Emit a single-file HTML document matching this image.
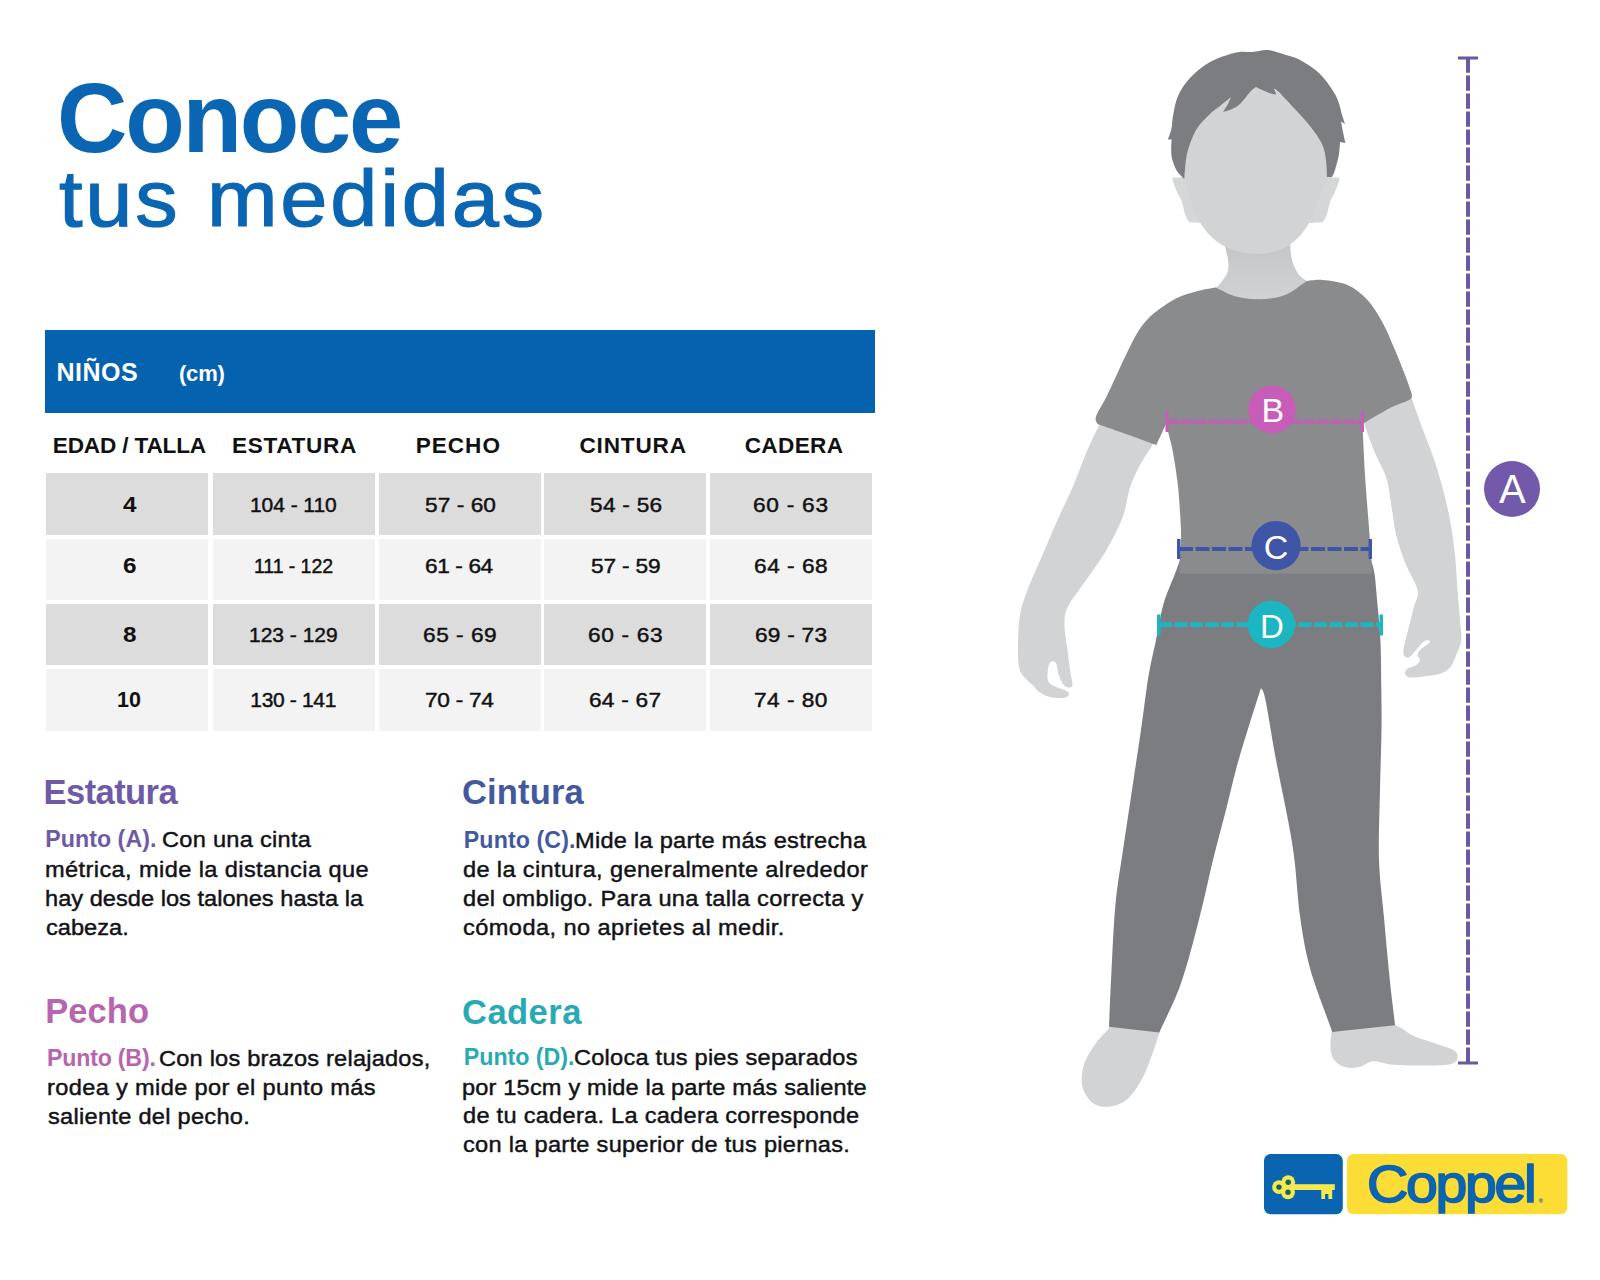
<!DOCTYPE html>
<html lang="es">
<head>
<meta charset="utf-8">
<title>Conoce tus medidas - Niños</title>
<style>
html,body{margin:0;padding:0;background:#fff;}
body{width:1600px;height:1280px;position:relative;overflow:hidden;font-family:"Liberation Sans",sans-serif;}
.t{position:absolute;white-space:pre;line-height:1;transform-origin:0 0;}
.c{position:absolute;}
.band{position:absolute;left:44.5px;top:330px;width:830.5px;height:82.5px;background:#0562ae;}
svg{position:absolute;left:0;top:0;}
header,section,figure{margin:0;padding:0;display:block;}
</style>
</head>
<body>
<header id="titulo">
<span class="t" style="left:57.0px;top:70px;font-size:97.5px;font-weight:700;color:#0a66b2;letter-spacing:-2.26px;">Conoce</span>
<span class="t" style="left:58.9px;top:159px;font-size:80px;font-weight:400;color:#0a66b2;letter-spacing:2.64px;transform:scaleX(1.060);-webkit-text-stroke:1.2px;">tus medidas</span>
</header>
<section id="tabla-tallas">
<div class="band"></div>
<div class="c" style="left:46.0px;top:473.0px;width:162.0px;height:61.5px;background:#dcdcdc"></div>
<div class="c" style="left:212.5px;top:473.0px;width:162.0px;height:61.5px;background:#dcdcdc"></div>
<div class="c" style="left:379.0px;top:473.0px;width:161.5px;height:61.5px;background:#dcdcdc"></div>
<div class="c" style="left:544.0px;top:473.0px;width:162.0px;height:61.5px;background:#dcdcdc"></div>
<div class="c" style="left:710.0px;top:473.0px;width:162.0px;height:61.5px;background:#dcdcdc"></div>
<div class="c" style="left:46.0px;top:539.0px;width:162.0px;height:61.0px;background:#f3f3f3"></div>
<div class="c" style="left:212.5px;top:539.0px;width:162.0px;height:61.0px;background:#f3f3f3"></div>
<div class="c" style="left:379.0px;top:539.0px;width:161.5px;height:61.0px;background:#f3f3f3"></div>
<div class="c" style="left:544.0px;top:539.0px;width:162.0px;height:61.0px;background:#f3f3f3"></div>
<div class="c" style="left:710.0px;top:539.0px;width:162.0px;height:61.0px;background:#f3f3f3"></div>
<div class="c" style="left:46.0px;top:604.0px;width:162.0px;height:61.0px;background:#dcdcdc"></div>
<div class="c" style="left:212.5px;top:604.0px;width:162.0px;height:61.0px;background:#dcdcdc"></div>
<div class="c" style="left:379.0px;top:604.0px;width:161.5px;height:61.0px;background:#dcdcdc"></div>
<div class="c" style="left:544.0px;top:604.0px;width:162.0px;height:61.0px;background:#dcdcdc"></div>
<div class="c" style="left:710.0px;top:604.0px;width:162.0px;height:61.0px;background:#dcdcdc"></div>
<div class="c" style="left:46.0px;top:669.0px;width:162.0px;height:61.5px;background:#f3f3f3"></div>
<div class="c" style="left:212.5px;top:669.0px;width:162.0px;height:61.5px;background:#f3f3f3"></div>
<div class="c" style="left:379.0px;top:669.0px;width:161.5px;height:61.5px;background:#f3f3f3"></div>
<div class="c" style="left:544.0px;top:669.0px;width:162.0px;height:61.5px;background:#f3f3f3"></div>
<div class="c" style="left:710.0px;top:669.0px;width:162.0px;height:61.5px;background:#f3f3f3"></div>
<span class="t" style="left:56.5px;top:360px;font-size:25px;font-weight:700;color:#fff;letter-spacing:0.50px;">NIÑOS</span>
<span class="t" style="left:179.0px;top:363px;font-size:22px;font-weight:700;color:#fff;letter-spacing:-0.21px;">(cm)</span>
<span class="t" style="left:52.8px;top:435px;font-size:22.6px;font-weight:700;color:#111;letter-spacing:-0.17px;">EDAD / TALLA</span>
<span class="t" style="left:232.0px;top:435px;font-size:22.6px;font-weight:700;color:#111;letter-spacing:0.67px;">ESTATURA</span>
<span class="t" style="left:415.7px;top:435px;font-size:22.6px;font-weight:700;color:#111;letter-spacing:0.98px;">PECHO</span>
<span class="t" style="left:579.4px;top:435px;font-size:22.6px;font-weight:700;color:#111;letter-spacing:0.83px;">CINTURA</span>
<span class="t" style="left:744.7px;top:435px;font-size:22.6px;font-weight:700;color:#111;letter-spacing:0.33px;">CADERA</span>
<span class="t" style="left:122.7px;top:495px;font-size:21.5px;font-weight:700;color:#111;transform:scaleX(1.130);">4</span>
<span class="t" style="left:250.0px;top:494px;font-size:21px;font-weight:400;color:#111;letter-spacing:-0.06px;-webkit-text-stroke:0.45px;">104 - 110</span>
<span class="t" style="left:424.6px;top:494px;font-size:21px;font-weight:400;color:#111;letter-spacing:0.05px;transform:scaleX(1.080);-webkit-text-stroke:0.45px;">57 - 60</span>
<span class="t" style="left:589.5px;top:494px;font-size:21px;font-weight:400;color:#111;letter-spacing:0.25px;transform:scaleX(1.080);-webkit-text-stroke:0.45px;">54 - 56</span>
<span class="t" style="left:753.1px;top:494px;font-size:21px;font-weight:400;color:#111;letter-spacing:0.68px;transform:scaleX(1.080);-webkit-text-stroke:0.45px;">60 - 63</span>
<span class="t" style="left:122.7px;top:556px;font-size:21.5px;font-weight:700;color:#111;transform:scaleX(1.130);">6</span>
<span class="t" style="left:253.8px;top:555px;font-size:21px;font-weight:400;color:#111;letter-spacing:-0.08px;transform:scaleX(0.930);-webkit-text-stroke:0.45px;">111 - 122</span>
<span class="t" style="left:424.9px;top:555px;font-size:21px;font-weight:400;color:#111;letter-spacing:-0.37px;transform:scaleX(1.080);-webkit-text-stroke:0.45px;">61 - 64</span>
<span class="t" style="left:590.9px;top:555px;font-size:21px;font-weight:400;color:#111;letter-spacing:-0.17px;transform:scaleX(1.080);-webkit-text-stroke:0.45px;">57 - 59</span>
<span class="t" style="left:753.8px;top:555px;font-size:21px;font-weight:400;color:#111;letter-spacing:0.48px;transform:scaleX(1.080);-webkit-text-stroke:0.45px;">64 - 68</span>
<span class="t" style="left:122.7px;top:625px;font-size:21.5px;font-weight:700;color:#111;transform:scaleX(1.130);">8</span>
<span class="t" style="left:249.0px;top:624px;font-size:21px;font-weight:400;color:#111;letter-spacing:-0.01px;-webkit-text-stroke:0.45px;">123 - 129</span>
<span class="t" style="left:422.7px;top:624px;font-size:21px;font-weight:400;color:#111;letter-spacing:0.48px;transform:scaleX(1.080);-webkit-text-stroke:0.45px;">65 - 69</span>
<span class="t" style="left:587.8px;top:624px;font-size:21px;font-weight:400;color:#111;letter-spacing:0.63px;transform:scaleX(1.080);-webkit-text-stroke:0.45px;">60 - 63</span>
<span class="t" style="left:754.6px;top:624px;font-size:21px;font-weight:400;color:#111;letter-spacing:0.22px;transform:scaleX(1.080);-webkit-text-stroke:0.45px;">69 - 73</span>
<span class="t" style="left:117.0px;top:690px;font-size:21.5px;font-weight:700;color:#111;">10</span>
<span class="t" style="left:250.3px;top:689px;font-size:21px;font-weight:400;color:#111;letter-spacing:-0.34px;-webkit-text-stroke:0.45px;">130 - 141</span>
<span class="t" style="left:424.5px;top:689px;font-size:21px;font-weight:400;color:#111;letter-spacing:-0.26px;transform:scaleX(1.080);-webkit-text-stroke:0.45px;">70 - 74</span>
<span class="t" style="left:589.1px;top:689px;font-size:21px;font-weight:400;color:#111;letter-spacing:0.22px;transform:scaleX(1.080);-webkit-text-stroke:0.45px;">64 - 67</span>
<span class="t" style="left:754.0px;top:689px;font-size:21px;font-weight:400;color:#111;letter-spacing:0.42px;transform:scaleX(1.080);-webkit-text-stroke:0.45px;">74 - 80</span>
</section>
<section id="como-medir">
<span class="t" style="left:43.6px;top:775px;font-size:34.5px;font-weight:700;color:#6e5aa6;letter-spacing:-0.58px;">Estatura</span>
<span class="t" style="left:462.0px;top:775px;font-size:34.5px;font-weight:700;color:#43599f;letter-spacing:0.16px;">Cintura</span>
<span class="t" style="left:45.2px;top:994px;font-size:34.5px;font-weight:700;color:#b765ad;letter-spacing:0.09px;">Pecho</span>
<span class="t" style="left:462.0px;top:995px;font-size:34.5px;font-weight:700;color:#27aab3;letter-spacing:0.48px;">Cadera</span>
<span class="t" style="left:45.2px;top:828px;font-size:23.2px;font-weight:700;color:#6e5aa6;letter-spacing:0.05px;">Punto (A).</span>
<span class="t" style="left:161.8px;top:828px;font-size:22.8px;font-weight:400;color:#121216;letter-spacing:0.27px;transform:scaleX(1.035);-webkit-text-stroke:0.45px;">Con una cinta</span>
<span class="t" style="left:44.6px;top:858px;font-size:22.8px;font-weight:400;color:#121216;letter-spacing:0.38px;transform:scaleX(1.035);-webkit-text-stroke:0.45px;">métrica, mide la distancia que</span>
<span class="t" style="left:44.6px;top:887px;font-size:22.8px;font-weight:400;color:#121216;letter-spacing:0.02px;transform:scaleX(1.035);-webkit-text-stroke:0.45px;">hay desde los talones hasta la</span>
<span class="t" style="left:45.6px;top:916px;font-size:22.8px;font-weight:400;color:#121216;letter-spacing:0.01px;transform:scaleX(1.035);-webkit-text-stroke:0.45px;">cabeza.</span>
<span class="t" style="left:47.0px;top:1047px;font-size:23.2px;font-weight:700;color:#b765ad;letter-spacing:-0.21px;">Punto (B).</span>
<span class="t" style="left:158.7px;top:1047px;font-size:22.8px;font-weight:400;color:#121216;letter-spacing:0.20px;transform:scaleX(1.035);-webkit-text-stroke:0.45px;">Con los brazos relajados,</span>
<span class="t" style="left:46.5px;top:1076px;font-size:22.8px;font-weight:400;color:#121216;letter-spacing:0.34px;transform:scaleX(1.035);-webkit-text-stroke:0.45px;">rodea y mide por el punto más</span>
<span class="t" style="left:47.5px;top:1105px;font-size:22.8px;font-weight:400;color:#121216;letter-spacing:0.27px;transform:scaleX(1.035);-webkit-text-stroke:0.45px;">saliente del pecho.</span>
<span class="t" style="left:463.8px;top:829px;font-size:23.2px;font-weight:700;color:#43599f;letter-spacing:0.10px;">Punto (C).</span>
<span class="t" style="left:575.3px;top:829px;font-size:22.8px;font-weight:400;color:#121216;letter-spacing:0.25px;transform:scaleX(1.035);-webkit-text-stroke:0.45px;">Mide la parte más estrecha</span>
<span class="t" style="left:463.0px;top:858px;font-size:22.8px;font-weight:400;color:#121216;letter-spacing:0.34px;transform:scaleX(1.035);-webkit-text-stroke:0.45px;">de la cintura, generalmente alrededor</span>
<span class="t" style="left:463.0px;top:887px;font-size:22.8px;font-weight:400;color:#121216;letter-spacing:0.28px;transform:scaleX(1.035);-webkit-text-stroke:0.45px;">del ombligo. Para una talla correcta y</span>
<span class="t" style="left:463.0px;top:916px;font-size:22.8px;font-weight:400;color:#121216;letter-spacing:0.41px;transform:scaleX(1.035);-webkit-text-stroke:0.45px;">cómoda, no aprietes al medir.</span>
<span class="t" style="left:463.8px;top:1046px;font-size:23.2px;font-weight:700;color:#27aab3;letter-spacing:-0.01px;">Punto (D).</span>
<span class="t" style="left:573.7px;top:1046px;font-size:22.8px;font-weight:400;color:#121216;letter-spacing:0.22px;transform:scaleX(1.035);-webkit-text-stroke:0.45px;">Coloca tus pies separados</span>
<span class="t" style="left:462.0px;top:1076px;font-size:22.8px;font-weight:400;color:#121216;letter-spacing:0.16px;transform:scaleX(1.035);-webkit-text-stroke:0.45px;">por 15cm y mide la parte más saliente</span>
<span class="t" style="left:463.0px;top:1104px;font-size:22.8px;font-weight:400;color:#121216;letter-spacing:0.26px;transform:scaleX(1.035);-webkit-text-stroke:0.45px;">de tu cadera. La cadera corresponde</span>
<span class="t" style="left:463.0px;top:1133px;font-size:22.8px;font-weight:400;color:#121216;letter-spacing:0.28px;transform:scaleX(1.035);-webkit-text-stroke:0.45px;">con la parte superior de tus piernas.</span>
</section>
<figure id="ilustracion">
<svg width="1600" height="1280" viewBox="0 0 1600 1280">
<defs><linearGradient id="neckg" x1="0" y1="0" x2="0" y2="1"><stop offset="0" stop-color="#c3c5c7"/><stop offset="0.45" stop-color="#c9cbcd"/><stop offset="1" stop-color="#d0d2d3"/></linearGradient></defs>
<g id="figure">
<path d="M1224.0,242.0 C1224.7,245.0 1227.4,255.0 1228.0,260.0 C1228.6,265.0 1228.8,268.3 1227.6,272.0 C1226.4,275.7 1223.3,279.4 1221.0,282.4 C1218.7,285.4 1215.2,288.7 1214.0,290.0 C1214.3,289.6 1212.5,286.3 1216.0,287.5 C1219.5,288.7 1227.7,294.9 1235.0,297.0 C1242.3,299.1 1251.7,300.2 1260.0,300.0 C1268.3,299.8 1277.2,299.2 1285.0,296.0 C1292.8,292.8 1303.3,283.5 1307.0,281.0 C1305.8,280.2 1302.0,278.2 1300.0,276.0 C1298.0,273.8 1296.4,271.0 1295.0,268.0 C1293.6,265.0 1292.4,262.3 1291.6,258.0 C1290.8,253.7 1290.3,244.7 1290.0,242.0 Z" fill="url(#neckg)" />
<path d="M1173.0,178.0 C1174.1,177.1 1177.5,178.1 1180.0,177.6 C1182.5,177.1 1184.0,174.3 1188.0,175.0 C1192.0,175.7 1200.0,176.2 1204.0,182.0 C1208.0,187.8 1212.0,203.3 1212.0,210.0 C1212.0,216.7 1206.7,219.9 1204.0,222.0 C1201.3,224.1 1198.5,222.5 1196.0,222.4 C1193.5,222.3 1190.8,222.8 1189.0,221.4 C1187.2,220.0 1186.2,217.2 1185.0,214.0 C1183.8,210.8 1183.3,205.7 1182.0,202.0 C1180.7,198.3 1178.4,195.2 1177.0,192.0 C1175.6,188.8 1174.3,185.3 1173.6,183.0 C1172.9,180.7 1171.9,178.9 1173.0,178.0 Z" fill="#d5d6d7" />
<path d="M1339.0,178.0 C1337.9,177.1 1334.5,178.1 1332.0,177.6 C1329.5,177.1 1328.0,174.3 1324.0,175.0 C1320.0,175.7 1312.0,176.2 1308.0,182.0 C1304.0,187.8 1300.0,203.3 1300.0,210.0 C1300.0,216.7 1305.3,219.9 1308.0,222.0 C1310.7,224.1 1313.5,222.5 1316.0,222.4 C1318.5,222.3 1321.2,222.8 1323.0,221.4 C1324.8,220.0 1325.8,217.2 1327.0,214.0 C1328.2,210.8 1328.7,205.7 1330.0,202.0 C1331.3,198.3 1333.6,195.2 1335.0,192.0 C1336.4,188.8 1337.7,185.3 1338.4,183.0 C1339.1,180.7 1340.1,178.9 1339.0,178.0 Z" fill="#d5d6d7" />
<path d="M1184.4,154.0 C1183.6,161.0 1184.5,169.3 1185.2,176.0 C1185.9,182.7 1187.0,188.0 1188.6,194.0 C1190.2,200.0 1192.6,206.5 1195.0,212.0 C1197.4,217.5 1199.7,222.3 1203.0,227.0 C1206.3,231.7 1210.2,236.2 1215.0,240.0 C1219.8,243.8 1225.2,247.3 1232.0,249.6 C1238.8,251.9 1248.3,253.8 1256.0,254.0 C1263.7,254.2 1271.7,252.7 1278.0,250.6 C1284.3,248.5 1289.3,245.4 1294.0,241.6 C1298.7,237.8 1302.7,232.8 1306.0,228.0 C1309.3,223.2 1311.2,218.7 1313.6,213.0 C1316.0,207.3 1318.1,200.2 1320.4,194.0 C1322.7,187.8 1325.9,182.7 1327.2,176.0 C1328.5,169.3 1329.2,161.7 1328.0,154.0 C1326.8,146.3 1324.7,138.0 1320.0,130.0 C1315.3,122.0 1310.7,113.3 1300.0,106.0 C1289.3,98.7 1271.0,85.3 1256.0,86.0 C1241.0,86.7 1221.0,102.0 1210.0,110.0 C1199.0,118.0 1194.3,126.7 1190.0,134.0 C1185.7,141.3 1185.2,147.0 1184.4,154.0 Z" fill="#d1d3d4" />
<path d="M1184.4,179.0 C1183.2,177.7 1179.0,174.2 1177.0,171.0 C1175.0,167.8 1173.4,163.5 1172.4,160.0 C1171.4,156.5 1171.3,153.4 1171.2,150.0 C1171.1,146.6 1171.5,141.3 1171.6,139.6 L1168.0,139.4 C1168.6,137.5 1170.8,131.9 1171.6,128.0 C1172.4,124.1 1171.9,121.3 1173.0,116.0 C1174.1,110.7 1175.2,102.3 1178.0,96.0 C1180.8,89.7 1184.7,83.7 1190.0,78.0 C1195.3,72.3 1202.3,66.3 1210.0,62.0 C1217.7,57.7 1229.0,54.1 1236.0,52.4 C1243.0,50.7 1246.7,52.4 1252.0,52.0 C1257.3,51.6 1262.3,49.5 1268.0,50.0 C1273.7,50.5 1280.7,53.3 1286.0,55.0 C1291.3,56.7 1294.3,56.8 1300.0,60.0 C1305.7,63.2 1314.0,68.0 1320.0,74.0 C1326.0,80.0 1332.3,89.0 1336.0,96.0 C1339.7,103.0 1340.9,111.3 1342.4,116.0 C1343.9,120.7 1344.6,122.7 1345.0,124.0 L1341.0,121.6 C1341.3,123.3 1342.3,128.4 1343.0,132.0 C1343.7,135.6 1345.0,141.2 1345.4,143.0 L1340.0,142.0 C1339.8,144.0 1339.8,149.3 1339.0,154.0 C1338.2,158.7 1336.2,166.2 1335.0,170.0 C1333.8,173.8 1332.5,175.8 1332.0,177.0 L1327.0,177.0 C1326.8,174.2 1326.8,165.5 1326.0,160.0 C1325.2,154.5 1324.7,149.7 1322.0,144.0 C1319.3,138.3 1314.7,132.0 1310.0,126.0 C1305.3,120.0 1299.0,113.5 1294.0,108.0 C1289.0,102.5 1282.3,95.5 1280.0,93.0 L1274.0,88.6 C1274.3,89.6 1276.6,93.8 1275.6,94.4 C1274.6,95.0 1270.6,93.3 1268.0,92.4 C1265.4,91.5 1262.0,89.9 1260.0,89.0 C1258.0,88.1 1256.7,87.3 1256.0,87.0 C1255.2,87.7 1253.7,88.2 1251.0,91.0 C1248.3,93.8 1243.2,101.0 1240.0,104.0 C1236.8,107.0 1234.8,107.7 1232.0,109.0 C1229.2,110.3 1224.5,111.5 1223.0,112.0 C1223.8,110.7 1226.7,106.5 1228.0,104.0 C1229.3,101.5 1230.5,98.2 1231.0,97.0 C1229.2,98.5 1223.5,103.2 1220.0,106.0 C1216.5,108.8 1214.0,110.0 1210.0,114.0 C1206.0,118.0 1199.8,123.3 1196.0,130.0 C1192.2,136.7 1188.9,145.8 1187.0,154.0 C1185.1,162.2 1184.8,174.8 1184.4,179.0 Z" fill="#7b7d80" />
<path d="M1120.0,397.5 C1109.6,398.3 1111.0,405.3 1107.5,410.0 C1104.0,414.7 1102.3,418.8 1099.0,425.5 C1095.7,432.2 1091.9,439.7 1087.5,450.0 C1083.1,460.3 1077.5,475.8 1072.5,487.5 C1067.5,499.2 1062.5,508.8 1057.5,520.0 C1052.5,531.2 1047.5,543.3 1042.5,555.0 C1037.5,566.7 1031.2,580.0 1027.5,590.0 C1023.8,600.0 1021.6,605.8 1020.0,615.0 C1018.4,624.2 1018.2,636.7 1018.0,645.0 C1017.8,653.3 1018.0,660.0 1018.8,665.0 C1019.5,670.0 1020.2,671.7 1022.5,675.0 C1024.8,678.3 1029.6,682.1 1032.5,685.0 C1035.4,687.9 1037.1,690.5 1040.0,692.5 C1042.9,694.5 1046.2,696.1 1050.0,697.0 C1053.8,697.9 1059.4,698.2 1062.5,698.0 C1065.6,697.8 1068.0,696.6 1068.8,695.5 C1069.5,694.4 1068.9,692.5 1067.0,691.2 C1065.1,689.9 1060.3,688.7 1057.5,687.5 C1054.7,686.3 1051.7,685.5 1050.0,683.8 C1048.3,682.1 1047.7,680.6 1047.5,677.5 C1047.3,674.4 1048.0,667.7 1048.8,665.0 C1049.6,662.3 1051.3,661.4 1052.5,661.2 C1053.7,661.0 1055.2,661.5 1056.2,663.8 C1057.2,666.1 1057.5,671.5 1058.8,675.0 C1060.1,678.5 1061.9,682.9 1063.8,685.0 C1065.7,687.1 1068.5,687.7 1070.0,687.5 C1071.5,687.3 1072.5,686.7 1072.5,683.8 C1072.5,680.9 1070.8,675.6 1070.0,670.0 C1069.2,664.4 1068.4,657.5 1067.5,650.0 C1066.6,642.5 1064.5,632.1 1064.5,625.0 C1064.5,617.9 1064.5,614.2 1067.5,607.5 C1070.5,600.8 1076.2,594.2 1082.5,585.0 C1088.8,575.8 1098.3,563.8 1105.0,552.5 C1111.7,541.2 1118.3,528.3 1122.5,517.5 C1126.7,506.7 1127.1,496.2 1130.0,487.5 C1132.9,478.8 1136.2,472.1 1140.0,465.0 C1143.8,457.9 1148.3,452.1 1152.5,445.0 C1156.7,437.9 1162.1,429.2 1165.0,422.5 C1167.9,415.8 1177.5,409.2 1170.0,405.0 C1162.5,400.8 1130.4,396.7 1120.0,397.5 Z" fill="#d1d3d4" />
<path d="M1375.0,385.0 C1369.4,387.9 1368.2,394.6 1366.2,400.0 C1364.2,405.4 1361.7,409.2 1363.0,417.5 C1364.3,425.8 1369.9,440.0 1373.8,450.0 C1377.7,460.0 1383.3,468.3 1386.2,477.5 C1389.1,486.7 1389.5,495.4 1391.2,505.0 C1392.9,514.6 1393.9,525.4 1396.2,535.0 C1398.5,544.6 1401.5,553.3 1405.0,562.5 C1408.5,571.7 1416.0,582.5 1417.5,590.0 C1419.0,597.5 1415.5,600.4 1413.8,607.5 C1412.1,614.6 1409.2,625.8 1407.5,632.5 C1405.8,639.2 1404.4,643.8 1403.8,647.5 C1403.2,651.2 1403.0,653.3 1403.8,655.0 C1404.6,656.7 1406.7,658.3 1408.8,657.5 C1410.9,656.7 1413.9,652.5 1416.2,650.0 C1418.5,647.5 1420.6,644.2 1422.5,642.5 C1424.4,640.8 1426.2,640.1 1427.5,640.0 C1428.8,639.9 1430.4,641.0 1430.0,642.0 C1429.6,643.0 1426.7,644.9 1425.0,646.2 C1423.3,647.5 1421.2,648.5 1420.0,650.0 C1418.8,651.5 1417.5,653.3 1417.5,655.0 C1417.5,656.7 1420.2,658.3 1420.0,660.0 C1419.8,661.7 1418.3,663.5 1416.2,665.0 C1414.1,666.5 1409.4,667.3 1407.5,668.8 C1405.6,670.3 1404.6,672.3 1405.0,673.8 C1405.4,675.2 1406.7,677.1 1410.0,677.5 C1413.3,677.9 1420.0,676.8 1425.0,676.2 C1430.0,675.6 1435.8,675.2 1440.0,673.8 C1444.2,672.3 1447.3,670.6 1450.0,667.5 C1452.7,664.4 1454.3,659.6 1456.2,655.0 C1458.1,650.4 1460.6,645.8 1461.2,640.0 C1461.8,634.2 1460.6,628.3 1460.0,620.0 C1459.4,611.7 1458.3,600.8 1457.5,590.0 C1456.7,579.2 1456.2,566.7 1455.0,555.0 C1453.8,543.3 1452.1,531.2 1450.0,520.0 C1447.9,508.8 1445.4,498.3 1442.5,487.5 C1439.6,476.7 1435.8,464.6 1432.5,455.0 C1429.2,445.4 1425.8,437.5 1423.0,430.0 C1420.2,422.5 1418.0,416.0 1415.8,410.0 C1413.5,404.0 1412.1,398.4 1409.5,393.8 C1406.9,389.2 1405.8,384.0 1400.0,382.5 C1394.2,381.0 1380.6,382.1 1375.0,385.0 Z" fill="#d1d3d4" />
<path d="M1111.9,1021.0 C1111.4,1022.2 1111.8,1024.4 1109.0,1028.2 C1106.2,1032.0 1099.4,1037.8 1095.2,1044.0 C1091.0,1050.2 1085.8,1058.4 1083.7,1065.6 C1081.6,1072.8 1081.0,1080.9 1082.5,1087.1 C1084.0,1093.3 1088.2,1099.6 1092.6,1102.9 C1097.0,1106.2 1103.4,1107.2 1109.0,1106.7 C1114.6,1106.2 1120.9,1104.3 1126.2,1100.1 C1131.5,1095.9 1136.5,1088.4 1140.6,1081.4 C1144.7,1074.5 1147.6,1066.5 1150.7,1058.4 C1153.8,1050.4 1157.6,1038.8 1159.3,1033.1 C1161.0,1027.3 1160.5,1025.4 1160.8,1023.9 Z" fill="#d1d3d4" />
<path d="M1333.2,1023.9 C1333.0,1025.2 1332.3,1028.6 1331.8,1031.9 C1331.3,1035.2 1330.2,1039.6 1330.4,1044.0 C1330.6,1048.4 1330.8,1054.6 1333.2,1058.4 C1335.6,1062.2 1340.5,1065.6 1344.8,1067.0 C1349.1,1068.4 1354.3,1068.0 1359.1,1067.0 C1363.9,1066.0 1367.8,1061.6 1373.5,1061.2 C1379.2,1060.8 1384.5,1064.0 1393.6,1064.7 C1402.7,1065.4 1418.5,1065.7 1428.1,1065.6 C1437.7,1065.5 1446.2,1065.4 1451.1,1064.1 C1456.0,1062.8 1457.0,1060.1 1457.5,1057.8 C1458.0,1055.5 1457.5,1052.6 1454.0,1050.3 C1450.5,1048.0 1443.5,1046.4 1436.8,1044.0 C1430.1,1041.6 1419.5,1038.5 1413.8,1036.0 C1408.1,1033.5 1405.9,1030.9 1402.8,1029.0 C1399.7,1027.1 1396.9,1026.0 1395.1,1024.7 C1393.3,1023.4 1392.7,1021.6 1392.2,1021.0 Z" fill="#d1d3d4" />
<path d="M1180.0,560.0 C1179.2,562.3 1177.8,566.5 1175.0,573.8 C1172.2,581.1 1166.7,593.0 1163.5,604.0 C1160.3,615.0 1158.5,628.0 1156.0,640.0 C1153.5,652.0 1151.0,661.0 1148.5,676.0 C1146.0,691.0 1143.8,711.0 1141.0,730.0 C1138.2,749.0 1135.0,770.0 1132.0,790.0 C1129.0,810.0 1125.8,831.0 1123.0,850.0 C1120.2,869.0 1117.5,883.2 1115.5,904.0 C1113.5,924.8 1112.4,954.5 1111.3,975.0 C1110.2,995.5 1109.4,1018.2 1109.0,1026.8 L1159.3,1032.5 C1162.9,1024.3 1174.2,1002.8 1180.9,983.6 C1187.6,964.4 1194.2,938.1 1199.5,917.5 C1204.8,896.9 1208.5,878.3 1213.0,860.0 C1217.5,841.7 1222.6,823.3 1226.6,807.5 C1230.6,791.7 1233.3,779.2 1237.2,765.0 C1241.1,750.8 1246.0,735.3 1250.0,722.5 C1254.0,709.7 1259.2,693.8 1261.0,688.0 C1261.8,690.0 1263.0,688.0 1265.5,700.0 C1268.0,712.0 1272.2,740.0 1276.0,760.0 C1279.8,780.0 1284.9,803.3 1288.0,820.0 C1291.1,836.7 1292.5,843.8 1294.5,860.0 C1296.5,876.2 1297.6,899.3 1300.2,917.5 C1302.8,935.7 1305.3,951.1 1310.3,969.3 C1315.3,987.5 1326.8,1016.3 1330.4,1026.8 C1334.0,1037.2 1331.6,1031.1 1331.8,1032.0 L1395.1,1025.3 C1394.1,1016.9 1391.1,993.0 1389.3,975.0 C1387.5,957.0 1385.7,936.7 1384.0,917.5 C1382.3,898.3 1379.7,881.2 1379.0,860.0 C1378.3,838.8 1379.6,811.7 1380.0,790.0 C1380.4,768.3 1381.3,747.0 1381.5,730.0 C1381.7,713.0 1381.5,703.0 1381.3,688.0 C1381.1,673.0 1381.1,654.0 1380.4,640.0 C1379.8,626.0 1378.4,615.0 1377.4,604.0 C1376.4,593.0 1375.6,581.1 1374.5,573.8 C1373.4,566.5 1371.6,562.3 1371.0,560.0 Z" fill="#7b7d80" />
<path d="M1216.2,287.5 C1219.3,288.9 1227.7,294.2 1235.0,296.2 C1242.3,298.1 1251.7,299.4 1260.0,299.2 C1268.3,299.0 1277.3,298.0 1285.0,295.0 C1292.7,292.0 1302.7,283.5 1306.2,281.2 C1308.9,281.0 1315.6,279.4 1322.5,280.0 C1329.4,280.6 1340.0,281.7 1347.5,285.0 C1355.0,288.3 1361.7,293.8 1367.5,300.0 C1373.3,306.2 1377.9,314.2 1382.5,322.5 C1387.1,330.8 1391.2,341.2 1395.0,350.0 C1398.8,358.8 1402.4,368.3 1405.0,375.0 C1407.6,381.7 1409.6,387.5 1410.5,390.0 C1410.5,391.5 1413.9,396.0 1410.5,399.0 C1407.1,402.0 1398.0,403.8 1390.0,408.0 C1382.0,412.2 1367.1,421.3 1362.5,424.0 C1362.9,432.5 1364.0,458.2 1365.0,475.0 C1366.0,491.8 1367.5,508.5 1368.8,525.0 C1370.0,541.5 1371.9,565.7 1372.5,573.8 L1178.8,573.8 C1179.2,568.2 1180.8,550.3 1181.0,540.0 C1181.2,529.7 1180.6,521.7 1180.0,512.0 C1179.4,502.3 1178.8,492.3 1177.5,482.0 C1176.2,471.7 1174.4,459.7 1172.5,450.0 C1170.6,440.3 1167.1,428.3 1166.0,424.0 L1156.3,445.0 C1150.7,443.0 1132.3,436.3 1122.5,432.8 C1112.7,429.3 1101.7,425.5 1097.5,424.0 C1097.2,422.8 1094.5,421.1 1096.0,416.5 C1097.5,411.9 1103.2,403.3 1106.7,396.2 C1110.2,389.1 1113.6,381.3 1117.1,373.9 C1120.6,366.5 1123.8,359.1 1127.5,351.7 C1131.2,344.3 1135.0,335.8 1139.4,329.4 C1143.9,323.0 1148.0,318.3 1154.2,313.1 C1160.4,307.9 1169.1,301.9 1176.5,298.2 C1183.9,294.5 1192.2,292.6 1198.8,290.8 C1205.4,289.0 1213.4,288.1 1216.3,287.5 Z" fill="#898b8d" />
</g>
<g id="measures">
<line x1="1468" y1="57.5" x2="1468" y2="1063" stroke="#6a58a1" stroke-width="4" stroke-dasharray="15.2 2.8"/>
<rect x="1458" y="56.5" width="20" height="3" fill="#6a58a1"/><rect x="1458" y="1061.5" width="20" height="3" fill="#6a58a1"/>
<circle cx="1512" cy="489" r="28" fill="#7259a9"/>
<line x1="1168" y1="421.8" x2="1363" y2="421.8" stroke="#c75db8" stroke-width="4.4" stroke-dasharray="12 1.5" opacity="0.82"/>
<rect x="1165.5" y="411" width="3" height="21" fill="#c75db8"/><rect x="1361" y="411" width="3" height="21" fill="#c75db8"/>
<circle cx="1272" cy="409.4" r="23.8" fill="#c75db8"/>
<line x1="1179" y1="549" x2="1371" y2="549" stroke="#3f56a6" stroke-width="4.2" stroke-dasharray="14 2.5"/>
<rect x="1177" y="539" width="3.5" height="20" fill="#3f56a6"/><rect x="1368.5" y="539" width="3.5" height="20" fill="#3f56a6"/>
<circle cx="1276.1" cy="545.6" r="24.6" fill="#3f56a6"/>
<line x1="1159" y1="624.6" x2="1382" y2="624.6" stroke="#1cb5c2" stroke-width="4.6" stroke-dasharray="13 2.5"/>
<rect x="1157" y="614.5" width="3.5" height="21" fill="#1cb5c2"/><rect x="1379.5" y="614.5" width="3.5" height="21" fill="#1cb5c2"/>
<circle cx="1271.3" cy="624.5" r="23.8" fill="#1cb5c2"/>
<text x="1512.3" y="502.5" font-size="40" fill="#fff" text-anchor="middle" font-family="Liberation Sans, sans-serif">A</text>
<text x="1272.8" y="422.2" font-size="34" fill="#fff" text-anchor="middle" font-family="Liberation Sans, sans-serif">B</text>
<text x="1276" y="559.2" font-size="34" fill="#fff" text-anchor="middle" font-family="Liberation Sans, sans-serif">C</text>
<text x="1271.8" y="637.5" font-size="33" fill="#fff" text-anchor="middle" font-family="Liberation Sans, sans-serif">D</text>
</g>
<g id="logo">
<rect x="1264" y="1154" width="78.8" height="60.2" rx="6.5" fill="#0b64b0"/>
<rect x="1347" y="1154" width="220.3" height="60.2" rx="6.5" fill="#fcdd35"/>
<g fill="#f4e94f"><circle cx="1279" cy="1187.1" r="6.9"/><circle cx="1288.2" cy="1182.2" r="6.9"/><circle cx="1288" cy="1192.3" r="6.9"/><rect x="1291" y="1184.2" width="43.8" height="5.8"/><path d="M1321.3,1189.5h10.9v9.4h-3.8v-4.9h-3.4v4.9h-3.7z"/></g>
<g fill="#11606f"><circle cx="1279" cy="1187.1" r="2.7"/><circle cx="1288.2" cy="1182.2" r="2.7"/><circle cx="1288" cy="1192.3" r="2.7"/></g>
<text transform="translate(1367,1202) scale(1.1,1)" x="0" y="0" font-size="52" fill="#0b64b0" stroke="#0b64b0" stroke-width="1.7" stroke-linejoin="round" font-family="Liberation Sans, sans-serif" letter-spacing="-2.1">Coppel</text>
<text x="1538.5" y="1202.5" font-size="6" font-weight="700" fill="#0b64b0" font-family="Liberation Sans, sans-serif">®</text>
</g>
</svg>
</figure>
</body>
</html>
